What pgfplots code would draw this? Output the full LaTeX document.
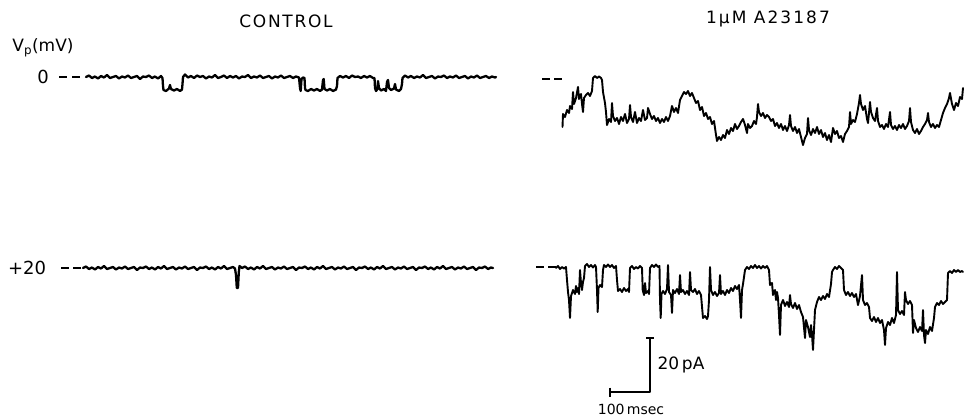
\documentclass[border=0pt]{standalone}
\usepackage{pgfplots}
\pgfplotsset{compat=1.18}
\usepackage{fontspec}
\setmainfont{DejaVu Sans}
\begin{document}
\begin{tikzpicture}
\begin{axis}[hide axis, scale only axis, width=964pt, height=417pt,
  xmin=0, xmax=964, ymin=0, ymax=417, y dir=reverse, clip=false]
\pgfplotsset{every axis plot/.append style={black, line join=round, line cap=round}}
% ---- dashes (zero-current levels)
\addplot[line width=1.4pt, dash pattern=on 8pt off 5pt, line cap=butt] coordinates {(59,77)(82,77)};
\addplot[line width=1.4pt, dash pattern=on 8pt off 4pt, line cap=butt] coordinates {(61,268)(82,268)};
\addplot[line width=1.4pt, dash pattern=on 8pt off 4pt, line cap=butt] coordinates {(542,79)(562,79)};
\addplot[line width=1.4pt, dash pattern=on 8pt off 4pt, line cap=butt] coordinates {(536,267)(556,267)};
% ---- CONTROL, 0 mV
\addplot[line width=2.3pt] coordinates {
(86,77)(89,75.5)(92,78)(95,76.5)(98,78.5)(101,76)(104,77.5)(107,75)(110,78)(113,77)(116,76)(119,78.5)(122,76.5)(125,77.5)(128,75.5)(131,78)(134,77)(137,76)(140,79)(143,76.5)(146,77)(149,75.5)(152,78)(155,76.5)(158,78.5)(161,76)(162.5,78)
(163,86)(163.5,90)(166,91)(169,88.5)(170,85)(171,89)(174,90.5)(177,89)(180,91)(182,89.5)(182.5,84)(183,77)(185,74.5)(188,77.5)(191,76)(194,78)(197,75.5)(200,77)(203,76)(206,78.5)(209,76.5)(212,77.5)(215,75)(218,78)(221,77)(224,75.5)(227,78)(230,76)(233,77.5)(236,76)(239,78.5)(242,76.5)(245,77)(248,75)(251,78)(254,76.5)(257,77.5)(260,75.5)(263,78)(266,77)(269,76)(272,78.5)(275,76.5)(278,77.5)(281,75.5)(284,78)(287,77)(290,76)(293,78)(296,76.5)(299,77.5)
(300,88)(300.7,91)(301.5,79)(303,77.5)(304.5,78)
(305,88)(305.5,90)(308,91)(311,89)(314,90.5)(317,89)(320,91)(322,89.5)(323,80)(323.7,79)(324.5,89)(327,90.5)(330,89)(333,91)(336,89.5)(337,86)(337.5,78)(340,76)(343,77.5)(346,76)(349,78)(352,75.5)(355,77)(358,76.5)(361,78)(364,76)(367,77.5)(370,76)(373,78)
(374.5,78)(375,88)(376,91)(377.5,89)(378,81)(379,88)(381,90.5)(384,89)(386,91)(387,82)(388,80)(389,88)(391,90)(394,88.5)(395,84)(396,89.5)(399,91)(401,89)(402,84)(402.5,78)(405,75.5)(408,77.5)(411,76)(414,78)(417,76.5)(420,77.5)(423,75)(426,78)(429,77)(432,76)(435,78.5)(438,76.5)(441,77)(444,75.5)(447,78)(450,76.5)(453,77.5)(456,75.5)(459,78)(462,77)(465,76)(468,78.5)(471,76.5)(474,77.5)(477,75.5)(480,78)(483,77)(486,76)(489,78)(492,76.5)(495,77.5)(496,77)
};
% ---- CONTROL, +20 mV
\addplot[line width=2.3pt] coordinates {
(83,268)(86,266.5)(89,269)(92,267.5)(95,269.5)(98,267)(101,268.5)(104,266)(107,269)(110,268)(113,267)(116,269.5)(119,267.5)(122,268.5)(125,266.5)(128,269)(131,268)(134,267)(137,270)(140,267.5)(143,268)(146,266.5)(149,269)(152,267.5)(155,269.5)(158,267)(161,268.5)(164,266)(167,269)(170,268)(173,267)(176,269.5)(179,267.5)(182,268.5)(185,266.5)(188,269)(191,268)(194,267)(197,270)(200,267.5)(203,268)(206,266.5)(209,269)(212,267.5)(215,269.5)(218,267)(221,268.5)(224,266)(227,269)(230,268)(233,267)(235,268.5)
(236,275)(236.8,288)(238,288)(238.8,272)(239.5,266)
(242,268)(245,266.5)(248,269)(251,267.5)(254,269.5)(257,267)(260,268.5)(263,266)(266,269)(269,268)(272,267)(275,269.5)(278,267.5)(281,268.5)(284,266.5)(287,269)(290,268)(293,267)(296,270)(299,267.5)(302,268)(305,266.5)(308,269)(311,267.5)(314,269.5)(317,267)(320,268.5)(323,266)(326,269)(329,268)(332,267)(335,269.5)(338,267.5)(341,268.5)(344,266.5)(347,269)(350,268)(353,267)(356,270)(359,267.5)(362,268)(365,266.5)(368,269)(371,267.5)(374,269.5)(377,267)(380,268.5)(383,266)(386,269)(389,268)(392,267)(395,269.5)(398,267.5)(401,268.5)(404,266.5)(407,269)(410,268)(413,267)(416,270)(419,267.5)(422,268)(425,266.5)(428,269)(431,267.5)(434,269.5)(437,267)(440,268.5)(443,266)(446,269)(449,268)(452,267)(455,269.5)(458,267.5)(461,268.5)(464,266.5)(467,269)(470,268)(473,267)(476,270)(479,267.5)(482,268)(485,266.5)(488,269)(491,267.5)(493,268)
};
% ---- A23187, 0 mV
\addplot[line width=1.9pt] coordinates {
(562.5,127)(563,114)(565,117)(567,110)(569,113)(570,106)(572,109)(573,92)(574,104)(576,98)(578,87)(579,99)(581,94)(582,104)(583,112)(584,98)(586,95)(588,93)(590,96)(592,91)(593,78)(595,76)(597,78)(599,76.5)(601,78)(602,80)(603,92)(605,103)(606,112)(607,125)(609,119)(611,122)(612,103)(613,116)(615,121)(617,118)(619,124)(621,117)(623,121)(625,114)(627,123)(629,119)(630,105)(631,117)(633,122)(635,112)(637,123)(639,118)(641,121)(643,110)(645,120)(647,118)(648,108)(650,114)(652,119)(654,116)(656,121)(658,118)(660,123)(662,119)(664,122)(666,117)(668,121)(670,116)(672,106)(674,112)(676,108)(678,113)(680,100)(682,96)(684,92)(686,94)(688,91)(690,96)(692,93)(694,98)(696,103)(698,101)(700,110)(702,107)(704,116)(706,113)(708,119)(710,117)(712,124)(714,121)(716,135)(717,141)(719,137)(721,140)(723,135)(725,138)(727,130)(729,134)(731,128)(733,131)(735,124)(737,129)(739,126)(741,122)(743,119)(745,125)(747,133)(748,124)(750,128)(752,126)(754,121)(756,124)(757,117)(758,104)(759,112)(761,116)(763,113)(765,118)(767,115)(769,117)(771,121)(773,119)(775,126)(777,123)(779,128)(781,124)(783,130)(785,126)(787,131)(789,125)(790,115)(791,126)(793,131)(795,127)(797,133)(799,129)(801,137)(803,145)(805,138)(807,134)(808,118)(809,130)(811,135)(813,129)(815,133)(817,127)(819,134)(821,130)(823,137)(825,133)(827,140)(829,135)(831,142)(833,128)(835,134)(837,131)(839,138)(841,136)(843,142)(845,134)(847,131)(849,127)(850,112)(851,124)(853,120)(855,122)(857,114)(859,103)(860,95)(861,104)(863,110)(865,106)(867,119)(868,123)(869,113)(870,102)(871,112)(873,118)(875,121)(877,108)(878,121)(880,127)(882,125)(884,129)(886,124)(888,127)(890,112)(891,125)(893,129)(895,126)(897,130)(899,125)(901,128)(903,124)(905,129)(907,126)(909,121)(910,108)(911,122)(913,130)(915,133)(917,129)(919,134)(921,131)(923,127)(925,124)(927,120)(928,113)(929,122)(931,127)(933,124)(935,128)(937,125)(939,127)(941,120)(943,113)(945,108)(947,104)(949,98)(950,93)(952,104)(954,110)(956,103)(958,106)(960,97)(962,99)(963,88)
};
% ---- A23187, +20 mV
\addplot[line width=1.9pt] coordinates {
(556,268)(558,266)(560,269)(562,267)(564,268.5)(566,267)(567,280)(568,292)(569,300)(570,318)(571,296)(573,290)(575,294)(576,286)(577,292)(578,288)(579,294)(580,270)(581,283)(582,290)(583,282)(584,278)(585,266)(587,264)(589,267)(591,265)(593,267.5)(595,265)(596,267)(597,290)(597.7,312)(598.5,288)(600,285)(602,287)(603,270)(604,265)(606,267)(608,264.5)(610,267)(612,265)(614,268)(616,266)(617,280)(618,291)(620,289)(622,292)(624,288)(626,291)(628,289)(629,292)(630,268)(632,266)(634,269)(636,267)(638,268.5)(640,266)(642,268)(642.7,290)(644,295)(645,283)(646,293)(648,291)(649,294)(650,268)(652,265)(654,267)(656,264.5)(658,267)(659.5,266)(660,300)(660.7,318)(661.5,294)(663,291)(665,294)(667,289)(668,265)(669,292)(671,295)(672,313)(673,290)(675,293)(677,289)(679,294)(680,275)(681,292)(683,290)(685,294)(687,291)(689,295)(690,272)(691,290)(693,292)(695,289)(697,294)(699,291)(701,295)(703,318)(705,316)(707,319)(708,316)(709,300)(710,267)(711,290)(713,295)(715,292)(717,296)(719,293)(720,275)(721,294)(723,291)(725,295)(727,290)(729,293)(731,288)(733,291)(735,286)(737,289)(739,285)(740,300)(741,318)(742,290)(743,284)(745,270)(747,267)(749,269)(751,266)(753,268)(755,265)(757,268)(759,266)(761,268.5)(763,266)(765,268)(767,266)(769,270)(770,285)(772,283)(773,295)(775,290)(776,300)(777,292)(778,298)(779,315)(780,335)(781,305)(783,300)(785,306)(787,302)(789,307)(790,295)(791,304)(793,308)(795,303)(797,309)(799,305)(801,312)(803,317)(805,338)(806,320)(808,327)(810,337)(811,325)(812,335)(813,350)(814,330)(815,310)(817,302)(819,297)(821,300)(823,296)(825,299)(827,294)(829,297)(831,284)(832,272)(833,270)(835,267)(837,269)(839,266)(841,268)(843,270)(844,290)(846,295)(848,292)(850,296)(852,293)(854,297)(856,294)(858,305)(860,296)(862,275)(863,300)(865,305)(867,303)(869,307)(870,318)(872,321)(874,317)(876,322)(878,318)(880,323)(882,320)(884,330)(885,345)(886,328)(888,322)(890,325)(892,318)(894,323)(896,315)(897,272)(898,310)(900,314)(902,311)(904,315)(905,292)(906,300)(908,304)(910,301)(912,305)(913,333)(914,320)(916,328)(918,332)(920,327)(922,331)(923,310)(924,335)(925,343)(926,330)(928,334)(930,327)(932,331)(934,318)(935,307)(937,303)(939,305)(941,301)(943,304)(945,302)(947,300)(948,273)(950,271)(952,273)(954,270)(956,272)(958,270)(960,272)(962,271)(963,272)
};
% ---- scale bars
\addplot[line width=1.4pt, line cap=butt] coordinates {(646,338)(654,338)};
\addplot[line width=1.4pt, line cap=butt] coordinates {(650,338)(650,392)(610,392)};
\addplot[line width=1.4pt, line cap=butt] coordinates {(610,387.5)(610,396.5)};
% ---- texts
\node[font=\fontsize{17}{19}\selectfont\addfontfeature{LetterSpace=10}] at (axis cs:286,21) {CONTROL};
\node[font=\fontsize{17}{19}\selectfont\addfontfeature{LetterSpace=12}] at (axis cs:768,19) {1μM A23187};
\node[font=\fontsize{17}{19}\selectfont] at (axis cs:43,48) {V\textsubscript{p}(mV)};
\node[font=\fontsize{18}{20}\selectfont] at (axis cs:43,77) {0};
\node[font=\fontsize{18}{20}\selectfont] at (axis cs:27,268) {+20};
\node[font=\fontsize{17}{19}\selectfont, anchor=west] at (axis cs:654,365) {20\,pA};
\node[font=\fontsize{14}{16}\selectfont] at (axis cs:631,409) {100\,msec};
\draw[draw=none] (rel axis cs:0,0) rectangle (rel axis cs:1,1);
\end{axis}
\end{tikzpicture}
\end{document}
